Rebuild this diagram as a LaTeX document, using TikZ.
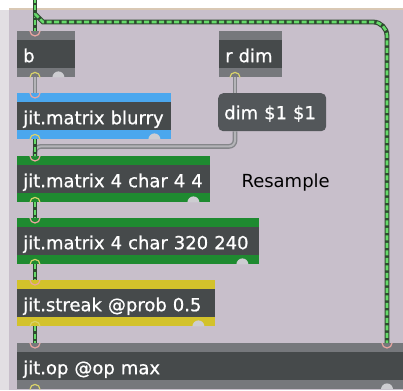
\documentclass[tikz,border=0pt]{standalone}
\usepackage{fontspec}
\newfontfamily\maxfont[FakeBold=0.8]{DejaVu Sans}
\newfontfamily\commentfont{DejaVu Sans}

\definecolor{patchbg}{HTML}{C8BFCB}
\definecolor{sidebg}{HTML}{E2DFE3}
\definecolor{topline}{HTML}{D9C8B4}
\definecolor{boxdark}{HTML}{464A4B}
\definecolor{boxgrey}{HTML}{76787C}
\definecolor{boxblue}{HTML}{4BA7EE}
\definecolor{boxgreen}{HTML}{1E8A30}
\definecolor{boxyellow}{HTML}{D3C22B}
\definecolor{msgdark}{HTML}{53575A}
\definecolor{jitedge}{HTML}{2F4A30}
\definecolor{jitgreen}{HTML}{66DA6A}
\definecolor{cordgrey}{HTML}{85868A}
\definecolor{cordlight}{HTML}{B4B4B8}
\definecolor{inletpink}{HTML}{E9A5A0}
\definecolor{outletyellow}{HTML}{D9D36A}
\definecolor{notchgrey}{HTML}{CDCDD1}

\tikzset{
  maxtext/.style={font=\maxfont\fontsize{18}{21}\selectfont},
  obj/.style={maxtext, fill=#1, anchor=north west, minimum height=46pt,
    inner xsep=6pt, inner ysep=0pt, align=left, text=white,
    text height=16pt, text depth=0pt,
    path picture={\fill[boxdark] ([yshift=-9pt]path picture bounding box.north west)
      rectangle ([yshift=9pt]path picture bounding box.south east);}},
  msg/.style={maxtext, fill=msgdark, rounded corners=5pt, anchor=north west,
    minimum height=38pt, inner xsep=6pt, inner ysep=0pt, align=left, text=white,
    text height=16pt, text depth=2pt},
  jcord/.style={preaction={draw=jitedge, line width=4.8pt}, draw=jitgreen,
    line width=2.6pt, dash pattern=on 5pt off 2.5pt},
  gcord/.style={draw=cordgrey, double=cordlight, double distance=2pt, line width=1.4pt},
  inletarc/.style={draw=inletpink, line width=1.2pt},
  outletarc/.style={draw=outletyellow, line width=1.2pt}
}

\begin{document}
\begin{tikzpicture}[x=1pt, y=-1pt]
  \useasboundingbox (0,0) rectangle (403,390);
  \clip (0,0) rectangle (403,390);

  % patcher background
  \fill[white] (0,0) rectangle (403,390);
  \fill[sidebg] (0,10) rectangle (9,390);
  \fill[patchbg] (9,10) rectangle (403,390);
  \fill[topline] (9,8) rectangle (403,10);

  % objects
  \node[obj=boxgrey, text width=46pt]   (b)      at (17,31)  {b};
  \node[obj=boxgrey, text width=51pt]   (rdim)   at (219,31) {r dim};
  \node[obj=boxblue, text width=142pt]  (blurry) at (17,93)  {jit.matrix blurry};
  \node[msg, text width=96pt]           (dimmsg) at (218,93) {dim \$1 \$1};
  \node[obj=boxgreen, text width=181pt] (mat44)  at (17,156) {jit.matrix 4 char 4 4};
  \node[obj=boxgreen, text width=230pt] (mat320) at (17,218) {jit.matrix 4 char 320 240};
  \node[obj=boxyellow, text width=186pt] (streak) at (17,280) {jit.streak @prob 0.5};
  \node[obj=boxgrey, text width=391pt]  (jitop)  at (17,343) {jit.op @op max};

  \node[font=\commentfont\fontsize{18}{21}\selectfont, anchor=base west] (resample)
    at (238,187) {Resample};

  % inlets, outlets
  \foreach \n in {b,blurry,mat44,mat320,streak,jitop} {
    \draw[inletarc] ([xshift=18pt]\n.north west) ++(-5pt,0) arc (180:360:5pt);
    \draw[outletarc] ([xshift=18pt]\n.south west) ++(-5pt,0) arc (180:0:5pt);
  }
  \foreach \n in {b,blurry,mat44,mat320,streak} {
    \fill[notchgrey] ([xshift=-17pt]\n.south east) ++(-6pt,0) arc (180:0:6pt) -- cycle;
  }
  \fill[notchgrey] ([xshift=370pt]jitop.south west) ++(-6pt,0) arc (180:0:6pt) -- cycle;
  \draw[inletarc] ([xshift=370pt]jitop.north west) ++(-5pt,0) arc (180:360:5pt);
  \draw[outletarc] ([xshift=16pt]rdim.south west) ++(-5pt,0) arc (180:0:5pt);

  % patch cords
  \coordinate (top)   at (35,-2);
  \coordinate (split) at (35,14);
  \coordinate (bend)  at (387,22);

  \draw[gcord] ([xshift=18pt]b.south west) -- ([xshift=18pt]blurry.north west);
  \draw[gcord] ([xshift=16pt]rdim.south west) -- ([xshift=17pt]dimmsg.north west);
  \draw[gcord, rounded corners=6pt] ([xshift=17pt]dimmsg.south west) -- ++(0,15)
    -| ([xshift=18pt]mat44.north west);

  \draw[jcord] (top) -- ([xshift=18pt]b.north west);
  \draw[jcord] (split) -- (43,22) [rounded corners=14pt] -- (bend)
    -- ([xshift=370pt]jitop.north west);
  \draw[jcord] ([xshift=18pt]blurry.south west) -- ([xshift=18pt]mat44.north west);
  \draw[jcord] ([xshift=18pt]mat44.south west) -- ([xshift=18pt]mat320.north west);
  \draw[jcord] ([xshift=18pt]mat320.south west) -- ([xshift=18pt]streak.north west);
  \draw[jcord] ([xshift=18pt]streak.south west) -- ([xshift=18pt]jitop.north west);

\end{tikzpicture}
\end{document}
